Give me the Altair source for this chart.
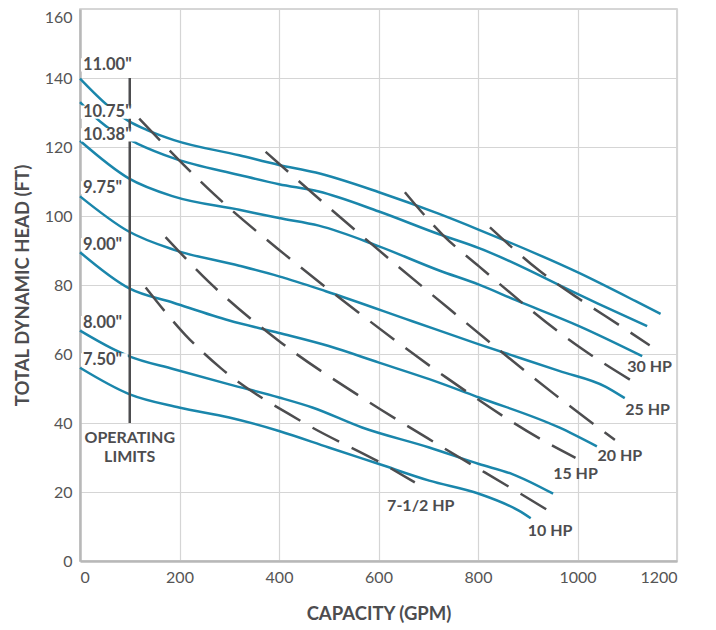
import altair as alt
import pandas as pd

# ---------------- data ----------------
# impeller curves: capacity (GPM) and total dynamic head (FT)
imp_names = ['11.00"', '10.75"', '10.38"', '9.75"', '9.00"', '8.00"', '7.50"']

q_1100 = [0, 55, 98, 135, 189, 320, 400, 474, 601, 722, 802, 1003, 1117, 1167]
h_1100 = [139.8, 132.1, 127.5, 124.9, 122.0, 117.6, 114.8, 112.6, 106.9, 100.6, 96.0, 83.5, 75.3, 71.6]

q_1075 = [0, 41, 62, 115, 189, 320, 400, 480, 601, 722, 802, 1003, 1040, 1140]
h_1075 = [133.0, 127.3, 125.0, 121.0, 116.7, 111.9, 109.2, 107.1, 101.3, 94.7, 90.7, 77.2, 74.7, 68.1]

q_1038 = [0, 98, 189, 320, 400, 480, 601, 722, 802, 876, 1003, 1130]
h_1038 = [121.8, 110.9, 105.6, 101.8, 99.4, 97.2, 91.2, 84.2, 80.1, 75.6, 68.1, 59.4]

q_975 = [0, 98, 189, 320, 400, 494, 668, 802, 963, 1057, 1095]
h_975 = [105.7, 95.5, 90.2, 85.6, 82.5, 78.2, 69.5, 62.8, 55.1, 50.5, 47.2]

q_900 = [0, 98, 189, 300, 400, 500, 601, 702, 802, 963, 1039]
h_900 = [89.5, 79.1, 74.8, 69.7, 66.1, 62.3, 57.5, 52.7, 47.4, 38.7, 33.2]

q_800 = [0, 62, 98, 189, 300, 400, 467, 567, 702, 802, 869, 951]
h_800 = [66.8, 61.8, 59.4, 55.6, 51.2, 47.4, 44.5, 38.7, 32.9, 28.1, 25.2, 19.5]

q_750 = [0, 100, 199, 300, 400, 500, 601, 702, 802, 882, 906]
h_750 = [56.0, 48.3, 44.5, 41.6, 37.7, 32.9, 28.1, 23.3, 19.5, 14.6, 12.4]

imp_q = [q_1100, q_1075, q_1038, q_975, q_900, q_800, q_750]
imp_h = [h_1100, h_1075, h_1038, h_975, h_900, h_800, h_750]

# horsepower lines
hp_names = ["30 HP", "25 HP", "20 HP", "15 HP", "10 HP", "7-1/2 HP"]

q_hp30 = [824, 923, 1003, 1090, 1145]
h_hp30 = [96.7, 84.2, 76.0, 67.8, 62.5]

q_hp25 = [653, 730, 802, 1003, 1129]
h_hp25 = [106.9, 94.4, 85.4, 62.1, 50.5]

q_hp20 = [373, 533, 742, 954, 1075]
h_hp20 = [118.6, 98.4, 73.1, 48.3, 35.1]

q_hp15 = [119, 271, 412, 559, 735, 941, 996]
h_hp15 = [128.2, 106.1, 88.8, 72.1, 53.3, 34.1, 29.9]

q_hp10 = [172, 259, 405, 563, 726, 889, 944]
h_hp10 = [93.9, 80.9, 63.2, 47.7, 33.2, 19.2, 14.4]

q_hp75 = [132, 212, 283, 446, 618, 673]
h_hp75 = [79.3, 65.5, 55.9, 40.4, 27.4, 22.8]

hp_q = [q_hp30, q_hp25, q_hp20, q_hp15, q_hp10, q_hp75]
hp_h = [h_hp30, h_hp25, h_hp20, h_hp15, h_hp10, h_hp75]

# label positions (data units)
imp_label_q = [6, 6, 6, 6, 6, 6, 6]
imp_label_h = [143.8, 130.1, 123.5, 108.2, 91.7, 69.1, 58.3]

hp_label_q = [1145, 1141, 1085, 996, 945, 685]
hp_label_h = [56.2, 43.9, 30.4, 25.3, 8.6, 15.9]

op_limit_q = 100
op_limit_h = [40, 140]
op_text = ["OPERATING", "LIMITS"]
op_text_h = [35.7, 30.2]

x_ticks = [0, 200, 400, 600, 800, 1000, 1200]
y_ticks = [0, 20, 40, 60, 80, 100, 120, 140, 160]

# ---------------- tables ----------------
imp_rows = []
for name, qs, hs in zip(imp_names, imp_q, imp_h):
    for i, (q, h) in enumerate(zip(qs, hs)):
        imp_rows.append({"series": name, "q": q, "h": h, "order": i})
imp_df = pd.DataFrame(imp_rows)

hp_rows = []
for name, qs, hs in zip(hp_names, hp_q, hp_h):
    for i, (q, h) in enumerate(zip(qs, hs)):
        hp_rows.append({"series": name, "q": q, "h": h, "order": i})
hp_df = pd.DataFrame(hp_rows)

imp_lab_df = pd.DataFrame({"label": imp_names, "q": imp_label_q, "h": imp_label_h})
# white boxes behind the impeller labels (sized from text length)
imp_lab_df["q0"] = imp_lab_df["q"] - 4
imp_lab_df["q1"] = imp_lab_df["q"] + imp_lab_df["label"].str.len() * 18
imp_lab_df["h0"] = imp_lab_df["h"] - 1.9
imp_lab_df["h1"] = imp_lab_df["h"] + 1.9

hp_lab_df = pd.DataFrame({"label": hp_names, "q": hp_label_q, "h": hp_label_h})
op_df = pd.DataFrame({"q": [op_limit_q], "h0": [op_limit_h[0]], "h1": [op_limit_h[1]]})
op_text_df = pd.DataFrame({"label": op_text, "q": [op_limit_q] * 2, "h": op_text_h})

# ---------------- styling ----------------
BLUE = "#1a86ab"
DARK = "#4d4d4f"
FONT = "Lato"

x_scale = alt.Scale(domain=[0, 1200], nice=False)
y_scale = alt.Scale(domain=[0, 160], nice=False)

x_axis = alt.Axis(values=x_ticks, format="d", title="CAPACITY (GPM)", grid=True)
y_axis = alt.Axis(
    values=y_ticks,
    format="d",
    title="TOTAL DYNAMIC HEAD (FT)",
    grid=True,
    labelBaseline={"condition": {"test": "datum.value == 160", "value": "top"}, "value": "middle"},
)

curves = alt.Chart(imp_df).mark_line(
    color=BLUE, strokeWidth=2.5, interpolate="monotone"
).encode(
    x=alt.X("q:Q", scale=x_scale, axis=x_axis),
    y=alt.Y("h:Q", scale=y_scale, axis=y_axis),
    detail="series:N",
    order="order:Q",
)

hp_lines = alt.Chart(hp_df).mark_line(
    color=DARK, strokeWidth=2.5, strokeDash=[30, 14], interpolate="monotone"
).encode(
    x=alt.X("q:Q", scale=x_scale),
    y=alt.Y("h:Q", scale=y_scale),
    detail="series:N",
    order="order:Q",
)

op_rule = alt.Chart(op_df).mark_rule(color=DARK, strokeWidth=2.5).encode(
    x=alt.X("q:Q", scale=x_scale),
    y=alt.Y("h0:Q", scale=y_scale),
    y2="h1:Q",
)

masks = alt.Chart(imp_lab_df).mark_rect(color="white").encode(
    x=alt.X("q0:Q", scale=x_scale),
    x2="q1:Q",
    y=alt.Y("h0:Q", scale=y_scale),
    y2="h1:Q",
)

imp_text = alt.Chart(imp_lab_df).mark_text(
    align="left", baseline="middle", font=FONT, fontWeight="bold", fontSize=16.5, color=DARK
).encode(
    x=alt.X("q:Q", scale=x_scale),
    y=alt.Y("h:Q", scale=y_scale),
    text="label:N",
)

hp_text = alt.Chart(hp_lab_df).mark_text(
    align="center", baseline="middle", font=FONT, fontWeight="bold", fontSize=16, color=DARK
).encode(
    x=alt.X("q:Q", scale=x_scale),
    y=alt.Y("h:Q", scale=y_scale),
    text="label:N",
)

op_label = alt.Chart(op_text_df).mark_text(
    align="center", baseline="middle", font=FONT, fontWeight="bold", fontSize=16, color=DARK
).encode(
    x=alt.X("q:Q", scale=x_scale),
    y=alt.Y("h:Q", scale=y_scale),
    text="label:N",
)

chart = alt.layer(
    curves, hp_lines, op_rule, masks, imp_text, hp_text, op_label
).properties(
    width=597,
    height=552,
    padding={"left": 5, "top": 1, "right": 5, "bottom": 0},
).configure_view(
    stroke="#c9c9c9", strokeWidth=1.5
).configure_axis(
    labelFont=FONT,
    labelFontSize=16,
    labelColor="#555555",
    labelPadding=8,
    ticks=False,
    domainColor="#b8b8b8",
    domainWidth=2.5,
    gridColor="#d5d5d5",
    gridWidth=1.2,
    titleFont=FONT,
    titleFontSize=18.5,
    titleFontWeight="bold",
    titleColor=DARK,
).configure_axisX(
    titlePadding=19,
).configure_axisY(
    titlePadding=12,
)

chart.save("out.html", embed_options={"renderer": "svg", "actions": False})
